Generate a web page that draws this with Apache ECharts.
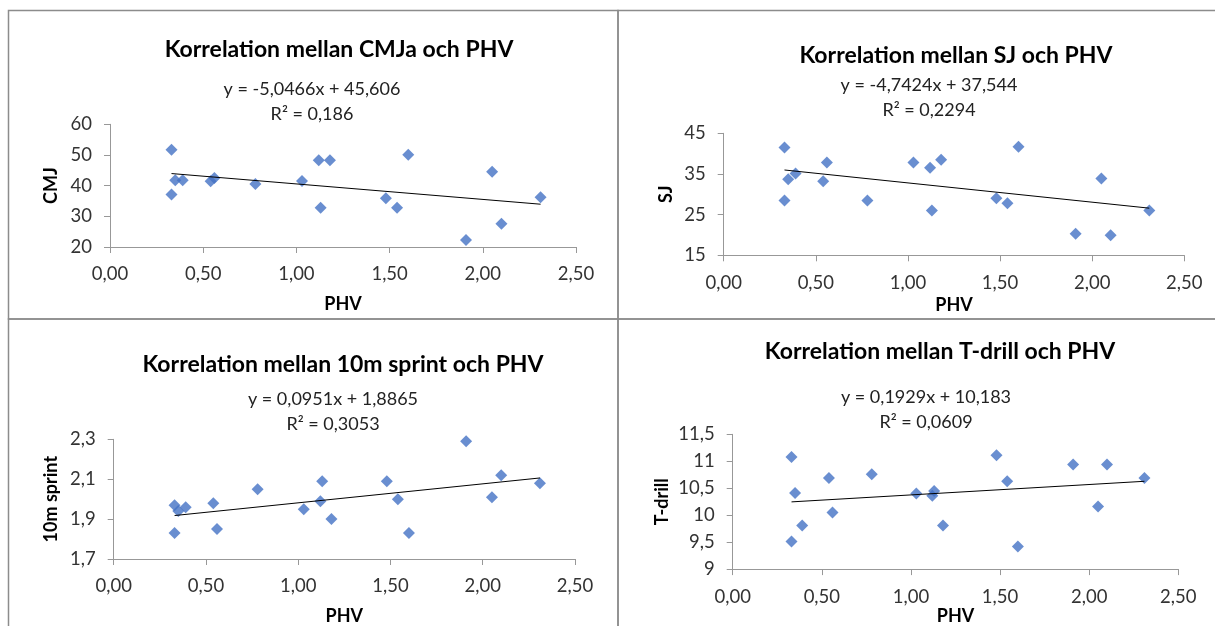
<!DOCTYPE html>
<html>
<head>
<meta charset="utf-8">
<title>Korrelation mellan tester och PHV</title>
<script src="https://cdn.jsdelivr.net/npm/echarts@6/dist/echarts.min.js"></script>
<style>
  html, body { margin: 0; padding: 0; background: #fff; }
  #main { width: 1215px; height: 626px; }
</style>
</head>
<body>
<div id="main"></div>
<script>
// PHV (x) for the 18 players, same order in every panel
var phv = [0.33, 0.33, 0.35, 0.39, 0.54, 0.56, 0.78, 1.03, 1.12, 1.13, 1.18, 1.48, 1.54, 1.60, 1.91, 2.05, 2.10, 2.31];
var cmj = [51.7, 37.1, 41.8, 41.8, 41.4, 42.5, 40.5, 41.5, 48.3, 32.8, 48.3, 35.9, 32.8, 50.1, 22.3, 44.5, 27.6, 36.2];
var sj = [41.5, 28.5, 33.7, 35.1, 33.2, 37.8, 28.5, 37.8, 36.5, 26.0, 38.5, 29.0, 27.8, 41.7, 20.3, 33.9, 19.9, 26.0];
var sprint = [1.97, 1.83, 1.94, 1.96, 1.98, 1.85, 2.05, 1.95, 1.99, 2.09, 1.90, 2.09, 2.00, 1.83, 2.29, 2.01, 2.12, 2.08];
var tdrill = [11.08, 9.51, 10.41, 9.81, 10.69, 10.05, 10.76, 10.40, 10.36, 10.45, 9.81, 11.11, 10.63, 9.42, 10.94, 10.16, 10.94, 10.69];

// trendlines (slope, intercept) as printed in the charts
var cmjTrend = [-5.0466, 45.606];
var sjTrend = [-4.7424, 37.544];
var sprintTrend = [0.0951, 1.8865];
var tdrillTrend = [0.1929, 10.183];

var titles = ['Korrelation mellan CMJa och PHV', 'Korrelation mellan SJ och PHV',
  'Korrelation mellan 10m sprint och PHV', 'Korrelation mellan T-drill och PHV'];
var equations = ['y = -5,0466x + 45,606\nR² = 0,186', 'y = -4,7424x + 37,544\nR² = 0,2294',
  'y = 0,0951x + 1,8865\nR² = 0,3053', 'y = 0,1929x + 10,183\nR² = 0,0609'];
var yNames = ['CMJ', 'SJ', '10m sprint', 'T-drill'];

// tick labels
var phvTicks = [0, 0.5, 1, 1.5, 2, 2.5];
var cmjTicks = [20, 30, 40, 50, 60];
var sjTicks = [15, 25, 35, 45];
var sprintTicks = [1.7, 1.9, 2.1, 2.3];
var tdrillTicks = [9, 9.5, 10, 10.5, 11, 11.5];

var font = 'Lato, "Open Sans", sans-serif';
var axisGray = '#989898';
var blue = '#4472C4';

// panel layout: grid box, title centre, equation centre, axis name gaps
var panels = [
  { grid: [110, 124.3, 466, 122.7], title: [339, 50], eq: [312, 102], xGap: 48, yGap: 50 },
  { grid: [723.7, 133.3, 460.6, 122], title: [956, 56], eq: [929, 98], xGap: 41, yGap: 49 },
  { grid: [113.7, 439.3, 461.3, 122.7], title: [343, 365], eq: [333, 411.5], xGap: 48, yGap: 54 },
  { grid: [732.7, 434.3, 445.6, 139.4], title: [940, 352], eq: [926, 409.5], xGap: 36, yGap: 62 }
];
var yValues = [cmj, sj, sprint, tdrill];
var yTicks = [cmjTicks, sjTicks, sprintTicks, tdrillTicks];
var trends = [cmjTrend, sjTrend, sprintTrend, tdrillTrend];
var yFmt = [
  function (v) { return String(v); },
  function (v) { return String(v); },
  function (v) { return v.toFixed(1).replace('.', ','); },
  function (v) { return String(v).replace('.', ','); }
];

var grid = [], xAxis = [], yAxis = [], series = [], title = [];
var xMin = Math.min.apply(null, phv), xMax = Math.max.apply(null, phv);

panels.forEach(function (p, i) {
  grid.push({ left: p.grid[0], top: p.grid[1], width: p.grid[2], height: p.grid[3] });
  title.push({
    text: titles[i], left: p.title[0], top: p.title[1], padding: 0,
    textAlign: 'center', textVerticalAlign: 'middle',
    textStyle: { fontFamily: font, fontSize: 23, fontWeight: 'bold', color: '#000' }
  });
  title.push({
    text: equations[i], left: p.eq[0], top: p.eq[1], padding: 0,
    textAlign: 'center', textVerticalAlign: 'middle',
    textStyle: { fontFamily: font, fontSize: 18, fontWeight: 'normal', color: '#222', lineHeight: 25 }
  });
  xAxis.push({
    gridIndex: i, type: 'value', min: 0, max: 2.5,
    name: 'PHV', nameLocation: 'middle', nameGap: p.xGap,
    nameTextStyle: { fontFamily: font, fontSize: 18, fontWeight: 'bold', color: '#000' },
    axisLine: { show: true, onZero: false, lineStyle: { color: axisGray } },
    axisTick: { show: true, length: 6, customValues: phvTicks, lineStyle: { color: axisGray } },
    axisLabel: {
      customValues: phvTicks, margin: 18, fontFamily: font, fontSize: 18.5, color: '#333',
      formatter: function (v) { return v.toFixed(2).replace('.', ','); }
    },
    splitLine: { show: false }
  });
  var yt = yTicks[i];
  yAxis.push({
    gridIndex: i, type: 'value', min: yt[0], max: yt[yt.length - 1],
    name: yNames[i], nameLocation: 'middle', nameGap: p.yGap,
    nameTextStyle: { fontFamily: font, fontSize: 18, fontWeight: 'bold', color: '#000' },
    axisLine: { show: true, onZero: false, lineStyle: { color: axisGray } },
    axisTick: { show: true, length: 6, customValues: yt, lineStyle: { color: axisGray } },
    axisLabel: { customValues: yt, margin: 18, fontFamily: font, fontSize: 18.5, color: '#333', formatter: yFmt[i] },
    splitLine: { show: false }
  });
  var pts = phv.map(function (x, k) { return [x, yValues[i][k]]; });
  series.push({
    type: 'scatter', xAxisIndex: i, yAxisIndex: i, data: pts,
    symbol: 'diamond', symbolSize: 12, itemStyle: { color: blue }, silent: true
  });
  var t = trends[i];
  series.push({
    type: 'line', xAxisIndex: i, yAxisIndex: i,
    data: [[xMin, t[0] * xMin + t[1]], [xMax, t[0] * xMax + t[1]]],
    showSymbol: false, silent: true, z: 3,
    lineStyle: { color: '#000', width: 1 }
  });
});

var chart = echarts.init(document.getElementById('main'));
chart.setOption({
  backgroundColor: '#fff',
  animation: false,
  title: title,
  grid: grid,
  xAxis: xAxis,
  yAxis: yAxis,
  series: series,
  graphic: [
    { type: 'rect', shape: { x: 8.5, y: 10.5, width: 609.5, height: 308.5 }, style: { fill: 'none', stroke: '#8c8c8c', lineWidth: 1.5 } },
    { type: 'rect', shape: { x: 618, y: 10.5, width: 620, height: 308.5 }, style: { fill: 'none', stroke: '#8c8c8c', lineWidth: 1.5 } },
    { type: 'rect', shape: { x: 8.5, y: 319, width: 609.5, height: 330 }, style: { fill: 'none', stroke: '#8c8c8c', lineWidth: 1.5 } },
    { type: 'rect', shape: { x: 618, y: 319, width: 620, height: 330 }, style: { fill: 'none', stroke: '#8c8c8c', lineWidth: 1.5 } }
  ]
});
</script>
</body>
</html>
